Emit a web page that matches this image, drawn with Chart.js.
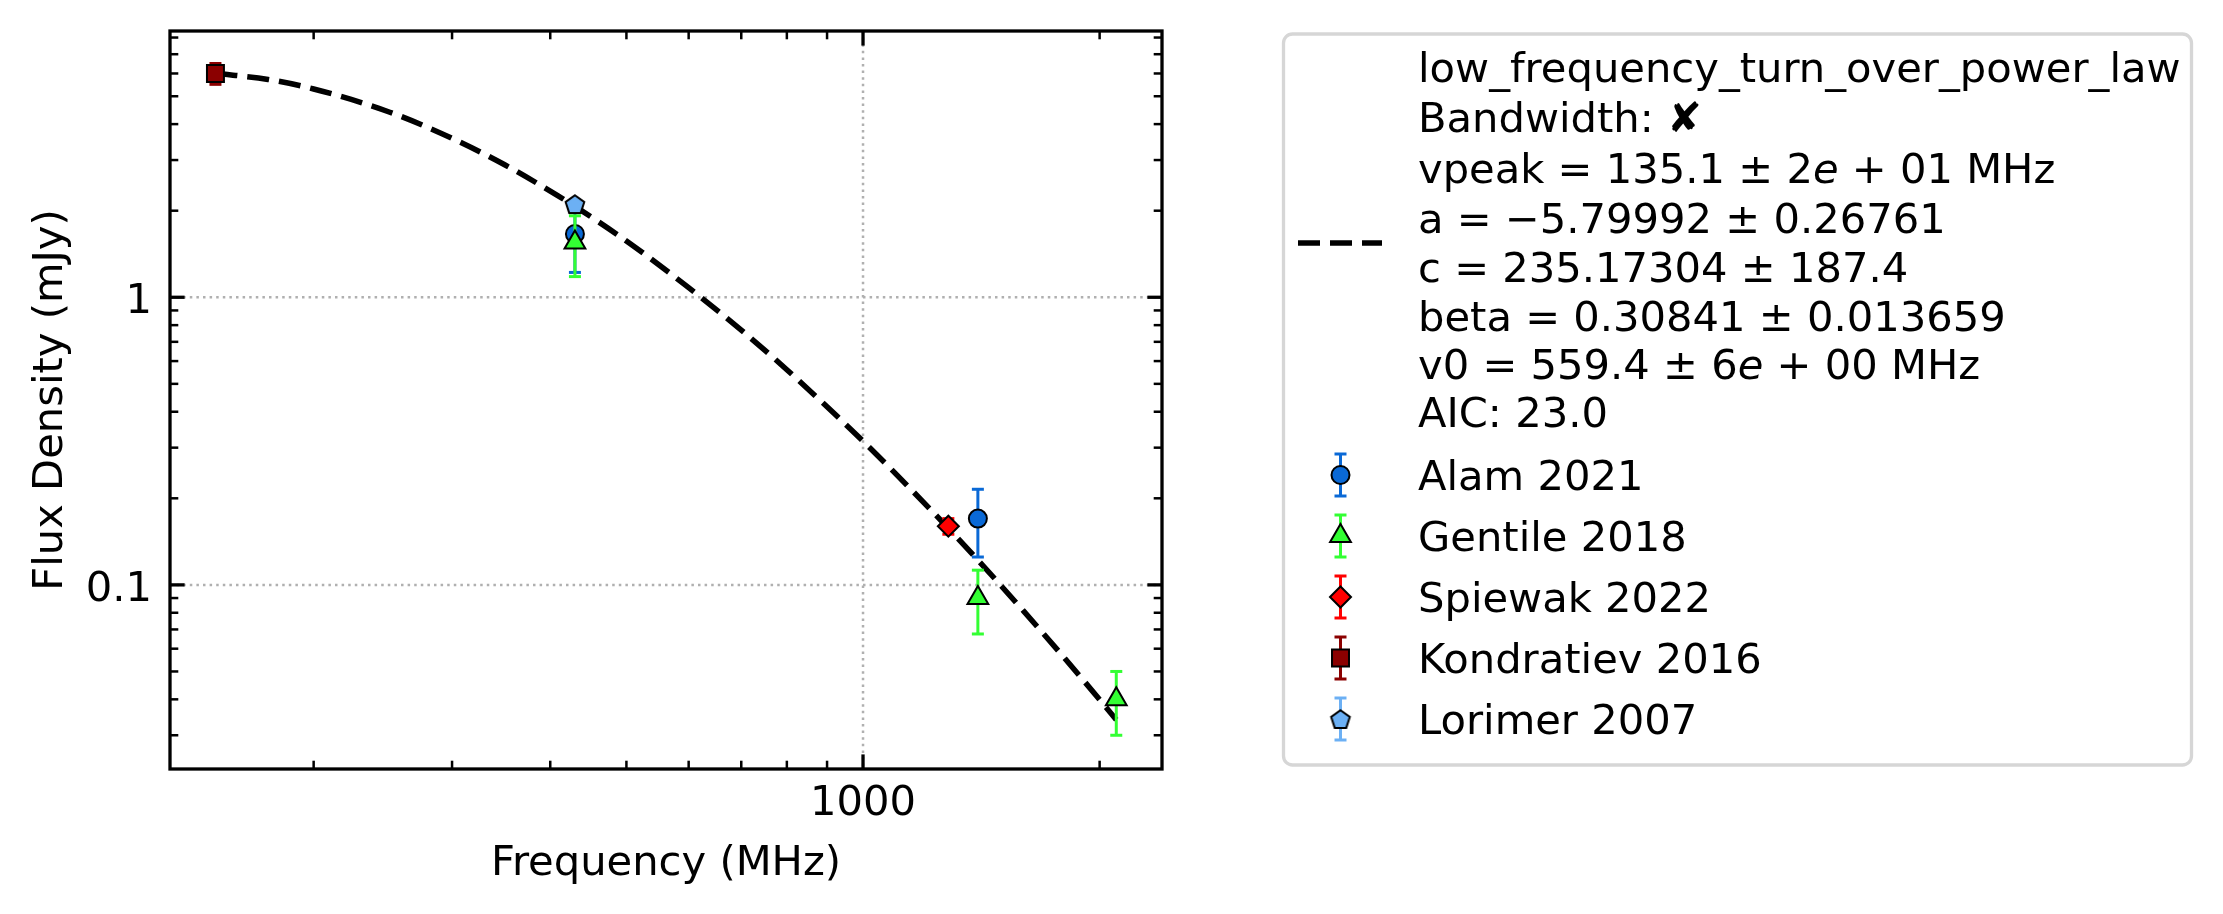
<!DOCTYPE html>
<html>
<head>
<meta charset="utf-8">
<script src="https://cdn.jsdelivr.net/npm/chart.js@4.4.1/dist/chart.umd.min.js"></script>
<style>
  html, body { margin: 0; padding: 0; background: #fff; }
</style>
</head>
<body>
<canvas id="spectrum" width="2223" height="914"></canvas>
<script>
// measurements (MHz, mJy)
const alamFreq = [430, 1400];
const alamFlux = [1.66, 0.17];
const alamErr = [0.44, 0.045];

const gentileFreq = [430, 1400, 2100];
const gentileFlux = [1.55, 0.09, 0.04];
const gentileErr = [0.37, 0.0225, 0.01];

const spiewakFreq = [1284];
const spiewakFlux = [0.16];
const spiewakErr = [0.01];

const kondratievFreq = [150];
const kondratievFlux = [6.0];
const kondratievErr = [0.5];

const lorimerFreq = [430];
const lorimerFlux = [2.11];
const lorimerErr = [0.07];

// fitted curve
const fitFreq = [150, 175, 200, 250, 300, 350, 400, 430, 500, 600, 700, 800, 900, 1000, 1200, 1400, 1600, 1800, 2000, 2100];
const fitFlux = [6.01, 5.72, 5.30, 4.40, 3.57, 2.89, 2.34, 2.07, 1.57, 1.08, 0.769, 0.560, 0.416, 0.316, 0.191, 0.122, 0.0812, 0.0561, 0.0399, 0.034];

// axes
const xMajorTicks = [1000];
const xTickLabels = ['1000'];
const xMinorTicks = [200, 300, 400, 500, 600, 700, 800, 900, 2000];
const yMajorTicks = [0.1, 1];
const yTickLabels = ['0.1', '1'];
const yMinorTicks = [0.03, 0.04, 0.05, 0.06, 0.07, 0.08, 0.09, 0.2, 0.3, 0.4, 0.5, 0.6, 0.7, 0.8, 0.9, 2, 3, 4, 5, 6, 7, 8];
const xTitle = 'Frequency (MHz)';
const yTitle = 'Flux Density (mJy)';

// legend text for the fit (segments: [text, italic])
const fitLabelLines = [
    [['low_frequency_turn_over_power_law', 0]],
    [['Bandwidth: \u2718', 0]],
    [['vpeak = 135.1 \u00b1 2', 0], ['e', 1], [' + 01 MHz', 0]],
    [['a = \u22125.79992 \u00b1 0.26761', 0]],
    [['c = 235.17304 \u00b1 187.4', 0]],
    [['beta = 0.30841 \u00b1 0.013659', 0]],
    [['v0 = 559.4 \u00b1 6', 0], ['e', 1], [' + 00 MHz', 0]],
    [['AIC: 23.0', 0]]
];

const FONT = '"DejaVu Sans", "Liberation Sans", sans-serif';
const FS = 41.67;

function pentagonImage(fill) {
    const size = 26;
    const c = document.createElement('canvas');
    c.width = size; c.height = size;
    const g = c.getContext('2d');
    const r = 9.8;
    g.beginPath();
    for (let k = 0; k < 5; k++) {
        const ang = -Math.PI / 2 + k * 2 * Math.PI / 5;
        const px = size / 2 + r * Math.cos(ang);
        const py = size / 2 + 1 + r * Math.sin(ang);
        if (k === 0) g.moveTo(px, py); else g.lineTo(px, py);
    }
    g.closePath();
    g.fillStyle = fill;
    g.fill();
    g.lineWidth = 2;
    g.strokeStyle = '#000';
    g.stroke();
    return c;
}

const pentagon = pentagonImage('#6cb0f4');

function pts(xs, ys) {
    return xs.map((v, i) => ({ x: v, y: ys[i] }));
}

const series = [
    { label: 'Alam 2021', xs: alamFreq, ys: alamFlux, err: alamErr, color: '#0a69d6', errColor: '#0a69d6', style: 'circle', radius: 9, order: 5 },
    { label: 'Gentile 2018', xs: gentileFreq, ys: gentileFlux, err: gentileErr, color: '#33ff33', errColor: '#33ff33', style: 'triangle', radius: 12, order: 4 },
    { label: 'Spiewak 2022', xs: spiewakFreq, ys: spiewakFlux, err: spiewakErr, color: '#ff0000', errColor: '#ff0000', style: 'rectRot', radius: 10.5, order: 3 },
    { label: 'Kondratiev 2016', xs: kondratievFreq, ys: kondratievFlux, err: kondratievErr, color: '#8b0000', errColor: '#8b0000', style: 'rect', radius: 12, order: 2 },
    { label: 'Lorimer 2007', xs: lorimerFreq, ys: lorimerFlux, err: lorimerErr, color: '#6cb0f4', errColor: '#6cb0f4', style: pentagon, radius: 10, order: 1 }
];

const datasets = series.map(s => {
    const ds = {
        type: 'scatter',
        label: s.label,
        errors: s.err,
        errColor: s.errColor,
        pointStyle: s.style,
        pointRadius: s.radius,
        pointBackgroundColor: s.color,
        pointBorderColor: '#000',
        pointBorderWidth: 2,
        order: s.order
    };
    ds.data = pts(s.xs, s.ys);
    return ds;
});

const fitSet = {
    type: 'line',
    label: 'fit',
    borderColor: '#000',
    borderWidth: 5.5,
    borderDash: [22, 10],
    pointRadius: 0,
    fill: false,
    cubicInterpolationMode: 'monotone',
    order: 10
};
fitSet.data = pts(fitFreq, fitFlux);
datasets.push(fitSet);

function seg(ctx, x1, y1, x2, y2) {
    ctx.beginPath();
    ctx.moveTo(x1, y1);
    ctx.lineTo(x2, y2);
    ctx.stroke();
}

// error bars drawn just under each series' markers
const errorBars = {
    id: 'errorBars',
    beforeDatasetDraw(chart, args) {
        const ds = chart.data.datasets[args.index];
        if (!ds.errors) return;
        const { ctx, scales: { x, y } } = chart;
        ctx.save();
        ctx.strokeStyle = ds.errColor;
        ctx.lineWidth = 3;
        ds.data.forEach((p, i) => {
            const px = x.getPixelForValue(p.x);
            const lo = y.getPixelForValue(p.y - ds.errors[i]);
            const hi = y.getPixelForValue(p.y + ds.errors[i]);
            seg(ctx, px, lo, px, hi);
            seg(ctx, px - 6, lo, px + 6, lo);
            seg(ctx, px - 6, hi, px + 6, hi);
        });
        ctx.restore();
    }
};

const mplAxes = {
    id: 'mplAxes',
    beforeDatasetsDraw(chart) {
        const { ctx, chartArea: a, scales: { x, y } } = chart;
        ctx.save();
        ctx.strokeStyle = '#b0b0b0';
        ctx.lineWidth = 2.5;
        ctx.setLineDash([2.5, 4.1]);
        xMajorTicks.forEach(v => {
            const px = x.getPixelForValue(v);
            seg(ctx, px, a.top, px, a.bottom);
        });
        yMajorTicks.forEach(v => {
            const py = y.getPixelForValue(v);
            seg(ctx, a.left, py, a.right, py);
        });
        ctx.restore();
    },
    afterDatasetsDraw(chart) {
        const { ctx, chartArea: a, scales: { x, y } } = chart;
        ctx.save();
        ctx.strokeStyle = '#000';
        // ticks point inward on all four sides
        const xt = (vals, len, w) => {
            ctx.lineWidth = w;
            vals.forEach(v => {
                const px = x.getPixelForValue(v);
                seg(ctx, px, a.bottom, px, a.bottom - len);
                seg(ctx, px, a.top, px, a.top + len);
            });
        };
        const yt = (vals, len, w) => {
            ctx.lineWidth = w;
            vals.forEach(v => {
                const py = y.getPixelForValue(v);
                seg(ctx, a.left, py, a.left + len, py);
                seg(ctx, a.right, py, a.right - len, py);
            });
        };
        xt(xMinorTicks, 8.3, 2.5);
        yt(yMinorTicks, 8.3, 2.5);
        xt(xMajorTicks, 14.6, 3.3);
        yt(yMajorTicks, 14.6, 3.3);

        ctx.lineWidth = 3.3;
        ctx.strokeRect(a.left, a.top, a.right - a.left, a.bottom - a.top);

        ctx.fillStyle = '#000';
        ctx.font = FS + 'px ' + FONT;
        ctx.textBaseline = 'alphabetic';
        ctx.textAlign = 'center';
        xMajorTicks.forEach((v, i) => {
            ctx.fillText(xTickLabels[i], x.getPixelForValue(v), a.bottom + 46);
        });
        ctx.textAlign = 'right';
        yMajorTicks.forEach((v, i) => {
            ctx.fillText(yTickLabels[i], a.left - 18, y.getPixelForValue(v) + 16);
        });

        ctx.textAlign = 'center';
        ctx.fillText(xTitle, (a.left + a.right) / 2, 875);
        ctx.translate(61.5, (a.top + a.bottom) / 2);
        ctx.rotate(-Math.PI / 2);
        ctx.fillText(yTitle, 0, 0);
        ctx.restore();
    }
};

function roundRect(ctx, x, y, w, h, r) {
    ctx.beginPath();
    ctx.moveTo(x + r, y);
    ctx.lineTo(x + w - r, y);
    ctx.arcTo(x + w, y, x + w, y + r, r);
    ctx.lineTo(x + w, y + h - r);
    ctx.arcTo(x + w, y + h, x + w - r, y + h, r);
    ctx.lineTo(x + r, y + h);
    ctx.arcTo(x, y + h, x, y + h - r, r);
    ctx.lineTo(x, y + r);
    ctx.arcTo(x, y, x + r, y, r);
    ctx.closePath();
}

const mplLegend = {
    id: 'mplLegend',
    afterDraw(chart) {
        const ctx = chart.ctx;
        ctx.save();
        roundRect(ctx, 1283.5, 34, 908, 731, 9);
        ctx.fillStyle = 'rgba(255,255,255,0.8)';
        ctx.fill();
        ctx.strokeStyle = '#d6d6d6';
        ctx.lineWidth = 3.3;
        ctx.stroke();

        const textX = 1418;
        const baselines = [82, 132, 183, 233, 282, 331, 379, 427];
        ctx.fillStyle = '#000';
        ctx.textAlign = 'left';
        ctx.textBaseline = 'alphabetic';
        fitLabelLines.forEach((line, i) => {
            let cx = textX;
            line.forEach(([txt, it]) => {
                ctx.font = (it ? 'italic ' : '') + FS + 'px ' + FONT;
                ctx.fillText(txt, cx, baselines[i]);
                cx += ctx.measureText(txt).width;
            });
        });

        // dashed handle for the fit
        ctx.strokeStyle = '#000';
        ctx.lineWidth = 5.5;
        ctx.setLineDash([22, 10]);
        seg(ctx, 1298, 243, 1382, 243);
        ctx.setLineDash([]);

        const markerX = 1340.5;
        series.forEach((s, i) => {
            const my = 475 + i * 61;
            ctx.strokeStyle = s.errColor;
            ctx.lineWidth = 3;
            seg(ctx, markerX, my - 21, markerX, my + 21);
            seg(ctx, markerX - 6, my - 21, markerX + 6, my - 21);
            seg(ctx, markerX - 6, my + 21, markerX + 6, my + 21);
            ctx.fillStyle = s.color;
            ctx.strokeStyle = '#000';
            ctx.lineWidth = 2;
            Chart.helpers.drawPoint(ctx, {
                pointStyle: s.style,
                radius: s.radius,
                rotation: 0,
                borderWidth: 2
            }, markerX, my);
            ctx.fillStyle = '#000';
            ctx.font = FS + 'px ' + FONT;
            ctx.fillText(s.label, textX, my + 15);
        });
        ctx.restore();
    }
};

const config = {
    type: 'scatter',
    options: {
        responsive: false,
        animation: false,
        devicePixelRatio: 1,
        layout: { padding: { left: 170, right: 1061, top: 31, bottom: 145 } },
        scales: {
            x: { type: 'logarithmic', min: 131.3, max: 2401, display: false },
            y: { type: 'logarithmic', min: 0.0229, max: 8.43, display: false }
        },
        plugins: {
            legend: { display: false },
            tooltip: { enabled: false }
        }
    },
    plugins: [errorBars, mplAxes, mplLegend]
};
config.data = { datasets: datasets };

new Chart(document.getElementById('spectrum').getContext('2d'), config);
</script>
</body>
</html>
